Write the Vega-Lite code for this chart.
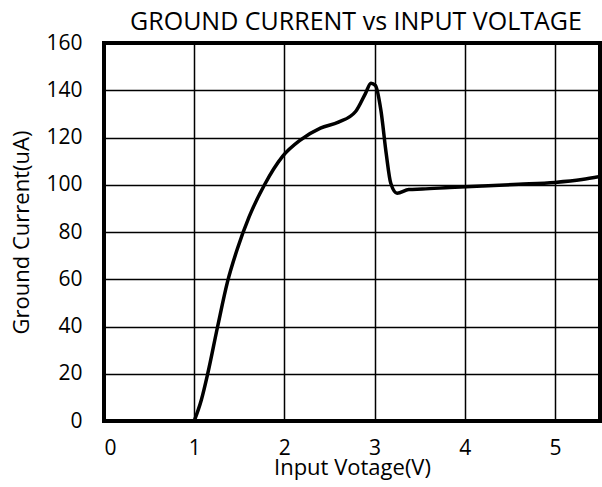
{
  "$schema": "https://vega.github.io/schema/vega-lite/v6.json",
  "autosize": {"type": "none"},
  "padding": {"left": 104, "top": 43, "right": 2, "bottom": 66},
  "width": 496,
  "height": 378,
  "background": "white",
  "view": {"stroke": "black", "strokeWidth": 4},
  "config": {
    "font": "Open Sans",
    "axis": {"gridColor": "black", "gridWidth": 1.5, "gridOpacity": 1, "domain": false, "ticks": false,
             "labelFont": "Open Sans", "labelFontSize": 21, "labelColor": "black",
             "titleFont": "Open Sans", "titleFontSize": 22, "titleFontWeight": "normal", "titleColor": "black"}
  },
  "title": {"text": "GROUND CURRENT vs INPUT VOLTAGE", "font": "Open Sans", "fontSize": 25, "fontWeight": "normal", "color": "black", "anchor": "middle", "offset": 13, "dx": 4, "dy": 16},
  "data": {"values": [
    {"v": 1.0, "i": 0},
    {"v": 1.08, "i": 9},
    {"v": 1.15, "i": 20},
    {"v": 1.26, "i": 40},
    {"v": 1.37, "i": 59},
    {"v": 1.48, "i": 73},
    {"v": 1.61, "i": 86.5},
    {"v": 1.78, "i": 100},
    {"v": 1.98, "i": 112},
    {"v": 2.18, "i": 119},
    {"v": 2.4, "i": 124},
    {"v": 2.6, "i": 126.5},
    {"v": 2.79, "i": 131},
    {"v": 2.9, "i": 138.7},
    {"v": 2.96, "i": 143},
    {"v": 3.01, "i": 142},
    {"v": 3.07, "i": 131.6},
    {"v": 3.13, "i": 113},
    {"v": 3.18, "i": 100.6},
    {"v": 3.25, "i": 96.4},
    {"v": 3.38, "i": 98},
    {"v": 3.53, "i": 98.2},
    {"v": 3.83, "i": 98.8},
    {"v": 4.2, "i": 99.5},
    {"v": 4.6, "i": 100.2},
    {"v": 5.0, "i": 101},
    {"v": 5.3, "i": 102.2},
    {"v": 5.5, "i": 103.5}
  ]},
  "mark": {"type": "line", "color": "black", "strokeWidth": 3.5, "interpolate": "monotone", "clip": true},
  "encoding": {
    "x": {"field": "v", "type": "quantitative", "scale": {"domain": [0, 5.5], "nice": false},
          "axis": {"values": [0, 1, 2, 3, 4, 5], "title": "Input Votage(V)", "labelPadding": 16, "titlePadding": -1}},
    "y": {"field": "i", "type": "quantitative", "scale": {"domain": [0, 160], "nice": false},
          "axis": {"values": [0, 20, 40, 60, 80, 100, 120, 140, 160], "title": "Ground Current(uA)", "labelPadding": 22, "titlePadding": 12}}
  }
}
